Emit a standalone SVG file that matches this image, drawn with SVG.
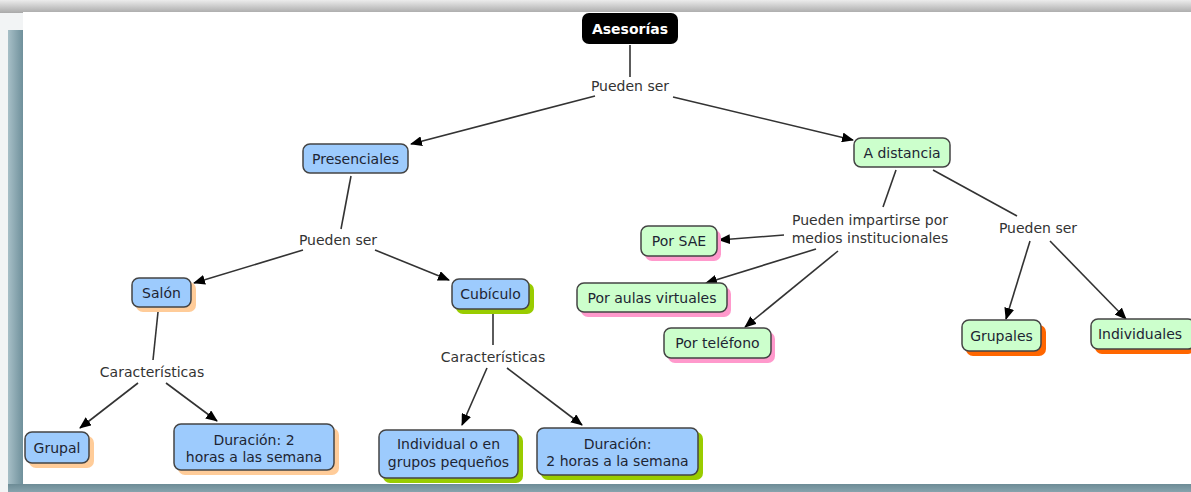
<svg xmlns="http://www.w3.org/2000/svg" width="1191" height="492" viewBox="0 0 1191 492">
<defs>
<linearGradient id="topg" x1="0" y1="0" x2="0" y2="1"><stop offset="0" stop-color="#ececec"/><stop offset="1" stop-color="#a9a9a9"/></linearGradient>
<linearGradient id="leftg" x1="0" y1="0" x2="1" y2="0"><stop offset="0" stop-color="#a7bfc7"/><stop offset="1" stop-color="#6f909b"/></linearGradient>
<linearGradient id="botg" x1="0" y1="0" x2="0" y2="1"><stop offset="0" stop-color="#6d8c96"/><stop offset="1" stop-color="#87a3ad"/></linearGradient>
<marker id="ah" viewBox="0 0 12 10" refX="11" refY="5" markerWidth="12" markerHeight="10" markerUnits="userSpaceOnUse" orient="auto"><path d="M0,0 L12,5 L0,10 z" fill="#000"/></marker>
</defs>
<style>
.c{stroke:#333;stroke-width:1.6;fill:none}
.a{marker-end:url(#ah)}
.box{stroke:#444;stroke-width:1.5}
.blue{fill:#9dcbfd}
.green{fill:#ccffcc}
.t{font-family:"DejaVu Sans",Verdana,sans-serif;font-size:14px;fill:#1d2533;text-anchor:middle}
.l{font-family:"DejaVu Sans",Verdana,sans-serif;font-size:14px;fill:#333;text-anchor:middle}
.sh-or{fill:#ffcc99}
.sh-gr{fill:#99cc00}
.sh-pk{fill:#ff99cc}
.sh-rd{fill:#ff6600}
</style>
<rect x="0" y="0" width="1191" height="492" fill="#f2f4f5"/>
<rect x="0" y="0" width="1191" height="13" fill="url(#topg)"/>
<rect x="8" y="30" width="15" height="462" fill="url(#leftg)"/>
<rect x="8" y="484" width="1183" height="8" fill="url(#botg)"/>
<rect x="23" y="12" width="1168" height="472" fill="#ffffff"/>

<g id="connectors">
<line class="c" x1="630" y1="45" x2="630" y2="77"/>
<line class="c a" x1="595" y1="96" x2="411" y2="144"/>
<line class="c a" x1="673" y1="97" x2="853" y2="140"/>
<line class="c" x1="351" y1="176" x2="341" y2="229"/>
<line class="c a" x1="303" y1="250" x2="194" y2="283"/>
<line class="c a" x1="375" y1="250" x2="449" y2="280"/>
<line class="c" x1="158" y1="312" x2="153" y2="360"/>
<line class="c a" x1="138" y1="383" x2="80" y2="428"/>
<line class="c a" x1="166" y1="383" x2="217" y2="421"/>
<line class="c" x1="493" y1="313" x2="493" y2="345"/>
<line class="c a" x1="487" y1="368" x2="462" y2="425"/>
<line class="c a" x1="507" y1="368" x2="582" y2="425"/>
<line class="c" x1="896" y1="170" x2="883" y2="207"/>
<line class="c" x1="933" y1="170" x2="1017" y2="216"/>
<line class="c a" x1="784" y1="235" x2="719" y2="240"/>
<line class="c a" x1="816" y1="249" x2="706" y2="283"/>
<line class="c a" x1="838" y1="251" x2="745" y2="327"/>
<line class="c a" x1="1030" y1="241" x2="1006" y2="319"/>
<line class="c a" x1="1050" y1="241" x2="1126" y2="319"/>
</g>

<g id="labels">
<text class="l" x="630" y="91">Pueden ser</text>
<text class="l" x="338" y="245">Pueden ser</text>
<text class="l" x="152" y="377">Características</text>
<text class="l" x="493" y="362">Características</text>
<text class="l" x="870" y="225">Pueden impartirse por</text>
<text class="l" x="870" y="243">medios institucionales</text>
<text class="l" x="1038" y="233">Pueden ser</text>
</g>

<g id="n-asesorias">
<rect x="582" y="13" width="96" height="31" rx="7" fill="#000"/>
<text class="t" x="630" y="34" style="fill:#fff;font-weight:bold">Asesorías</text>
</g>
<g id="n-presenciales">
<rect class="box blue" x="303" y="144" width="105" height="29" rx="7"/>
<text class="t" x="355.5" y="163.5">Presenciales</text>
</g>
<g id="n-adistancia">
<rect class="box green" x="854" y="138" width="96" height="29" rx="7"/>
<text class="t" x="902" y="157.5">A distancia</text>
</g>
<g id="n-salon">
<rect class="sh-or" x="136" y="282" width="60" height="30" rx="7"/>
<rect class="box blue" x="132" y="278" width="59" height="29" rx="7"/>
<text class="t" x="161.5" y="297.5">Salón</text>
</g>
<g id="n-cubiculo">
<rect class="sh-gr" x="456" y="283" width="78" height="31" rx="7"/>
<rect class="box blue" x="452" y="279" width="77" height="30" rx="7"/>
<text class="t" x="490.5" y="299">Cubículo</text>
</g>
<g id="n-grupal">
<rect class="sh-or" x="29" y="436" width="65" height="32" rx="7"/>
<rect class="box blue" x="25" y="432" width="64" height="31" rx="7"/>
<text class="t" x="57" y="452.5">Grupal</text>
</g>
<g id="n-duracion1">
<rect class="sh-or" x="178" y="428" width="161" height="47" rx="7"/>
<rect class="box blue" x="174" y="424" width="160" height="46" rx="7"/>
<text class="t" x="254" y="445">Duración: 2</text>
<text class="t" x="254" y="462">horas a las semana</text>
</g>
<g id="n-individual">
<rect class="sh-gr" x="383" y="434" width="140" height="49" rx="7"/>
<rect class="box blue" x="379" y="430" width="139" height="48" rx="7"/>
<text class="t" x="448.5" y="449">Individual o en</text>
<text class="t" x="448.5" y="467">grupos pequeños</text>
</g>
<g id="n-duracion2">
<rect class="sh-gr" x="541" y="432" width="162" height="48" rx="7"/>
<rect class="box blue" x="537" y="428" width="161" height="47" rx="7"/>
<text class="t" x="617.5" y="449">Duración:</text>
<text class="t" x="617.5" y="466">2 horas a la semana</text>
</g>
<g id="n-porsae">
<rect class="sh-pk" x="645" y="230" width="76" height="31" rx="7"/>
<rect class="box green" x="641" y="226" width="76" height="30" rx="7"/>
<text class="t" x="679" y="246">Por SAE</text>
</g>
<g id="n-aulas">
<rect class="sh-pk" x="581" y="287" width="150" height="30" rx="7"/>
<rect class="box green" x="577" y="283" width="150" height="29" rx="7"/>
<text class="t" x="652" y="302.5">Por aulas virtuales</text>
</g>
<g id="n-telefono">
<rect class="sh-pk" x="668" y="332" width="107" height="31" rx="7"/>
<rect class="box green" x="664" y="328" width="107" height="30" rx="7"/>
<text class="t" x="717.5" y="348">Por teléfono</text>
</g>
<g id="n-grupales">
<rect class="sh-rd" x="966" y="325" width="80" height="31" rx="7"/>
<rect class="box green" x="962" y="320" width="79" height="31" rx="7"/>
<text class="t" x="1001.5" y="340.5">Grupales</text>
</g>
<g id="n-individuales">
<rect class="sh-rd" x="1095" y="324" width="100" height="30" rx="7"/>
<rect class="box green" x="1091" y="319" width="104" height="30" rx="7"/>
<text class="t" x="1140" y="339">Individuales</text>
</g>
</svg>
